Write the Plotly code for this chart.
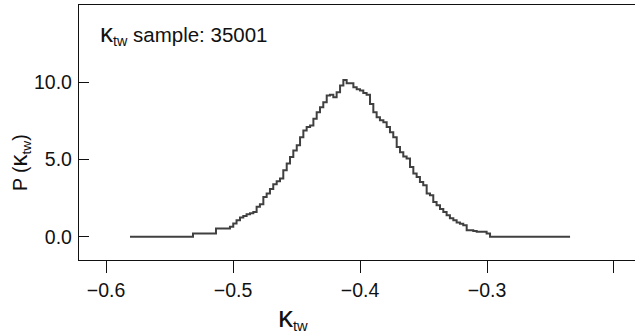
import plotly.graph_objects as go

# Step histogram of kappa_tw (left edge of each step, height)
kappa = [-0.5811, -0.5315, -0.5134, -0.5024, -0.4998, -0.4972, -0.4945, -0.4919, -0.4893,
         -0.4866, -0.4840, -0.4814, -0.4788, -0.4761, -0.4735, -0.4709, -0.4683, -0.4656,
         -0.4630, -0.4604, -0.4577, -0.4551, -0.4525, -0.4498, -0.4472, -0.4446, -0.4420,
         -0.4393, -0.4367, -0.4341, -0.4315, -0.4289, -0.4262, -0.4236, -0.4210, -0.4184,
         -0.4157, -0.4131, -0.4105, -0.4079, -0.4052, -0.4026, -0.4000, -0.3974, -0.3948,
         -0.3921, -0.3895, -0.3869, -0.3843, -0.3816, -0.3790, -0.3764, -0.3738, -0.3711,
         -0.3685, -0.3659, -0.3633, -0.3606, -0.3580, -0.3554, -0.3528, -0.3502, -0.3475,
         -0.3449, -0.3423, -0.3397, -0.3370, -0.3344, -0.3318, -0.3292, -0.3265, -0.3239,
         -0.3213, -0.3187, -0.3160, -0.3134, -0.3108, -0.3081, -0.3055, -0.3029, -0.3003,
         -0.2976, -0.2346]
prob = [0.00, 0.22, 0.54, 0.65, 0.86, 1.08, 1.25, 1.35, 1.46,
        1.52, 1.61, 1.94, 2.11, 2.58, 2.80, 3.10, 3.40, 3.60,
        3.77, 4.30, 4.74, 5.16, 5.59, 5.92, 6.45, 6.88, 7.10,
        7.21, 7.64, 8.06, 8.39, 8.71, 9.14, 9.20, 9.03, 9.35,
        9.79, 10.15, 9.94, 9.94, 9.68, 9.55, 9.46, 9.30, 9.20,
        8.60, 8.06, 7.74, 7.55, 7.42, 7.10, 6.77, 6.45, 5.81,
        5.48, 5.20, 5.06, 4.52, 4.09, 3.87, 3.55, 3.34, 2.80,
        2.69, 2.26, 2.05, 1.80, 1.61, 1.40, 1.20, 1.08, 0.93,
        0.85, 0.75, 0.43, 0.43, 0.38, 0.32, 0.32, 0.32, 0.22,
        0.00, 0.00]

x_ticks = [-0.6, -0.5, -0.4, -0.3, -0.2]
x_labels = ["\u22120.6", "\u22120.5", "\u22120.4", "\u22120.3", ""]
y_ticks = [0.0, 5.0, 10.0]
y_labels = ["0.0", "5.0", "10.0"]

FONT = "Liberation Sans, Arial, sans-serif"

fig = go.Figure()
fig.add_trace(go.Scatter(x=kappa, y=prob, mode="lines", line_shape="hv",
                         line=dict(color="#404040", width=2), showlegend=False,
                         hoverinfo="skip"))

fig.update_layout(
    width=635, height=334,
    margin=dict(l=79, r=0, t=5, b=74),
    paper_bgcolor="white", plot_bgcolor="white",
    font=dict(family=FONT, size=19.5, color="#111"),
    xaxis=dict(range=[-0.62126, -0.18346], tickvals=x_ticks, ticktext=x_labels,
               ticks="outside", ticklen=12, tickwidth=1.3, tickcolor="#111",
               showline=True, linecolor="#111", linewidth=1.3, mirror=True,
               showgrid=False, zeroline=False, tickfont=dict(size=19.5)),
    yaxis=dict(range=[-1.5, 15], tickvals=y_ticks, ticktext=y_labels,
               ticks="inside", ticklen=10, tickwidth=1.3, tickcolor="#111",
               showline=True, linecolor="#111", linewidth=1.3,
               showgrid=False, zeroline=False, tickfont=dict(size=19.5),
               ticklabelstandoff=2),
    annotations=[
        dict(text="<span style='font-size:26px'>\u03ba</span><sub>tw</sub> sample: 35001",
             xref="paper", yref="paper", x=0.034, y=0.89, xanchor="left",
             yanchor="middle", showarrow=False, font=dict(size=20.5, family=FONT)),
        dict(text="<span style='font-size:30px'>\u03ba</span><sub>tw</sub>",
             xref="paper", yref="paper", x=0.385, y=-0.225, xanchor="center",
             yanchor="middle", showarrow=False, font=dict(size=21, family=FONT)),
        dict(text="P (<span style='font-size:24px'>\u03ba</span><sub>tw</sub>)",
             xref="paper", yref="paper", x=-0.108, y=0.384, xanchor="center",
             yanchor="middle", showarrow=False, textangle=-90,
             font=dict(size=19.5, family=FONT)),
    ],
)

fig.write_html("out.html")
